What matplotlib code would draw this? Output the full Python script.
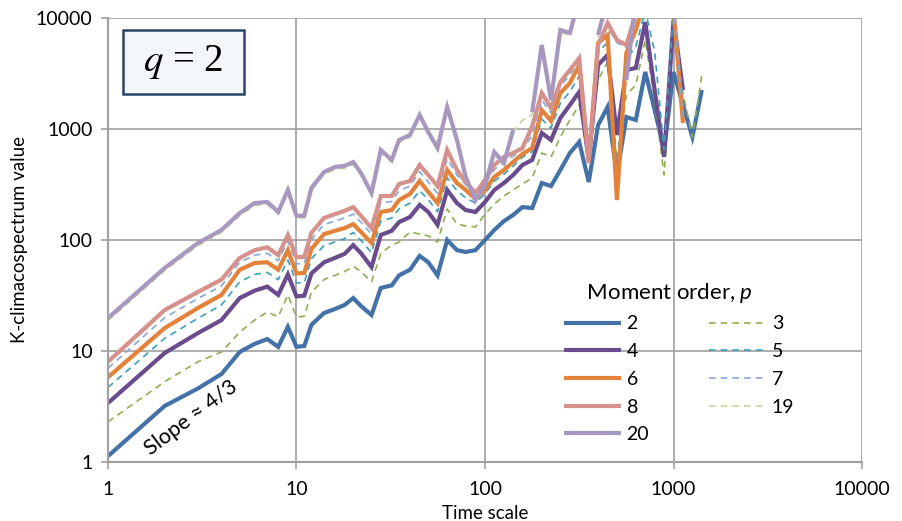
import numpy as np
import matplotlib
matplotlib.use('Agg')
import matplotlib.pyplot as plt
import matplotlib.patches as patches

plt.rcParams['font.family'] = ['Lato', 'DejaVu Sans']
plt.rcParams['mathtext.fontset'] = 'custom'
plt.rcParams['mathtext.rm'] = 'Lato'
plt.rcParams['mathtext.it'] = 'Lato:italic'

nan = np.nan

# time scales (shared by all series)
scale = [1, 2, 3, 4, 5, 6, 7, 8, 9, 10, 11, 12, 14, 16, 18, 20, 22, 25, 28, 32,
         35, 40, 45, 50, 56, 63, 71, 79, 89, 100, 112, 126, 141, 158, 178, 200,
         224, 251, 282, 316, 355, 398, 447, 501, 562, 631, 708, 794, 891, 1000,
         1122, 1259, 1413]

p2 = [1.13, 3.2, 4.6, 6.2, 9.8, 11.6, 12.8, 10.9, 16.5, 10.9, 11.1, 17.2, 22, 23.9,
      26, 30, 25.4, 21.1, 37, 39, 48, 54, 72, 63, 48, 100, 81, 78, 81, 100, 123,
      148, 168, 198, 194, 326, 306, 427, 608, 764, 333, 1086, 1578, 385, 1282,
      1205, 3264, 1483, 647, 3264, 1645, 847, 2245]
p3 = [2.3, 5.3, 8.0, 9.8, 14.8, 19, 22.5, 20.3, 32, 20.3, 20.5, 34, 44, 48, 52, 58,
      52, 42, 76, 90, 96, 118, 113, 109, 96, 190, 139, 134, 131, 171, 211, 249,
      282, 320, 362, 608, 560, 847, 1205, 1645, 674, 2763, 4015, 526, 2025, 2490,
      6340, 1825, 385, 7030, 2110, 847, 3065]
p4 = [3.4, 9.6, 14.5, 19, 30, 35, 38, 32, 49, 31, 31.5, 50, 63, 69, 75, 90, 76, 57,
      111, 121, 145, 161, 207, 179, 137, 282, 215, 186, 179, 220, 282, 326, 385,
      474, 526, 920, 796, 1256, 1645, 2155, 526, 3775, 4645, 883, 3400, 3545,
      9200, 2245, 560, 9600, 2245, nan, nan]
p5 = [4.7, 13, 19.7, 26, 42, 49, 51, 44, 66, 41, 41.5, 68, 89, 96, 103, 117, 99, 77,
      148, 158, 191, 215, 278, 231, 180, 364, 278, 240, 215, 261, 339, 392, 462,
      558, 625, 1226, 1017, 1709, 2170, 2995, 552, 4980, 6000, 450, 4260, 5520,
      11700, 5000, 650, 12000, 1800, nan, nan]
p6 = [5.8, 16.1, 24.4, 32, 54, 62, 63, 54, 81, 50, 50.5, 83, 113, 121, 128, 139,
      118, 94, 179, 186, 229, 260, 340, 271, 215, 427, 326, 282, 234, 282, 370,
      427, 504, 595, 674, 1483, 1180, 2110, 2596, 3775, 526, 5955, 7030, 229,
      4840, 7800, 15000, 20000, 15000, 12000, 1132, nan, nan]
p7 = [7.0, 20, 29.7, 38.6, 63, 73, 76, 65, 98, 61, 61.5, 101, 138, 148, 158, 171,
      144, 113, 217, 222, 279, 306, 413, 333, 264, 541, 384, 316, 256, 322, 431,
      504, 570, 652, 872, 1822, 1391, 2436, 3060, 4179, 525, 6006, 8200, 6000,
      5415, 9540, 15000, 20000, 15000, 13000, 1300, nan, nan]
p8 = [8.0, 23.4, 34, 44, 69, 81, 86, 73, 111, 70, 70.5, 116, 158, 171, 183, 198,
      165, 128, 249, 249, 320, 340, 474, 385, 306, 647, 427, 333, 265, 347, 474,
      560, 608, 674, 1064, 2110, 1545, 2650, 3400, 4360, 494, 5710, 9020, 6340,
      5710, 11000, 15000, 20000, 15000, 15000, nan, nan, nan]
p19 = [18.8, 53, 89, 117, 166, 204, 209, 170, 268, 157, 158, 279, 390, 432, 442,
       479, 381, 252, 615, 500, 756, 839, 1270, 893, 640, 1500, 756, 352, 218, 297,
       590, 469, 931, 1200, 1350, 5400, 1730, 7400, 7000, 14000, nan, 6700, 14000,
       nan, 2600, 14000, 14000, nan, nan, nan, nan, nan, nan]
p20 = [19.8, 56, 94, 123, 175, 215, 220, 179, 282, 165, 166, 294, 410, 455, 465,
       504, 401, 265, 647, 526, 796, 883, 1337, 940, 674, 1578, 796, 370, 229, 313,
       621, 494, 980, nan, 1422, 5710, 1825, 7800, 7330, 15000, nan, 7030, 15000,
       nan, 2763, 15000, 15000, nan, nan, nan, nan, nan, nan]

# (label, values, colour, solid?)
series = [
    ('2', p2, '#4472A8', True),
    ('3', p3, '#8DB04D', False),
    ('4', p4, '#6A4B8E', True),
    ('5', p5, '#3AA0BC', False),
    ('6', p6, '#E5823A', True),
    ('7', p7, '#86A8D8', False),
    ('8', p8, '#D6918C', True),
    ('19', p19, '#BFD59A', False),
    ('20', p20, '#A898C0', True),
]
legend_order = ['2', '4', '6', '8', '20', '3', '5', '7', '19']

fig = plt.figure(figsize=(9.02, 5.21), dpi=100)
ax = fig.add_axes([0.1197, 0.1132, 0.836, 0.8523])

handles = {}
for lab, vals, col, solid in series:
    if solid:
        ln, = ax.plot(scale, vals, color=col, lw=3.0, solid_joinstyle='miter',
                      solid_capstyle='butt')
    else:
        ln, = ax.plot(scale, vals, color=col, lw=1.2, ls=(0, (4, 3)))
    handles[lab] = ln

ax.set_xscale('log')
ax.set_yscale('log')
ax.set_xlim(1, 10000)
ax.set_ylim(1, 10000)

ticks = [1, 10, 100, 1000, 10000]
ax.set_xticks(ticks)
ax.set_xticklabels([str(t) for t in ticks])
ax.set_yticks(ticks)
ax.set_yticklabels([str(t) for t in ticks])
ax.minorticks_off()

gcol = '#A0A0A0'
ax.grid(True, color=gcol, lw=1.2)
ax.set_axisbelow(True)
for s in ['top', 'right']:
    ax.spines[s].set_visible(False)
for s in ['left', 'bottom']:
    ax.spines[s].set_color(gcol)
    ax.spines[s].set_linewidth(1.5)
ax.tick_params(axis='both', colors=gcol, length=5, width=1.2, labelsize=14,
               labelcolor='black')
ax.tick_params(axis='x', pad=9)
ax.tick_params(axis='y', pad=6)

ax.set_xlabel('Time scale', fontsize=13.5, labelpad=5)
ax.set_ylabel('K-climacospectrum value', fontsize=13.5, labelpad=6)

# q = 2 box
box = patches.Rectangle((0.0199, 0.8288), 0.1605, 0.1441, transform=ax.transAxes,
                        facecolor='#F3F6FB', edgecolor='#2B4566', lw=1.8,
                        zorder=5, clip_on=False)
ax.add_patch(box)
ax.text(0.0995, 0.9009, r'$q$ = 2', transform=ax.transAxes, ha='center',
        va='center', fontsize=28, family='Liberation Serif',
        math_fontfamily='stix', zorder=6)

ax.text(0.11, 0.1, 'Slope ≈ 4/3', transform=ax.transAxes, rotation=37,
        ha='center', va='center', fontsize=15.5, zorder=6)

leg = ax.legend([handles[k] for k in legend_order], legend_order, ncol=2,
                loc='upper left', bbox_to_anchor=(0.592, 0.43), frameon=False,
                fontsize=14, title='    Moment order, $p$', title_fontsize=16,
                alignment='left',
                handlelength=2.95, handletextpad=0.26, columnspacing=3.1,
                labelspacing=0.55, borderpad=0)

fig.savefig('out.png', dpi=100)
